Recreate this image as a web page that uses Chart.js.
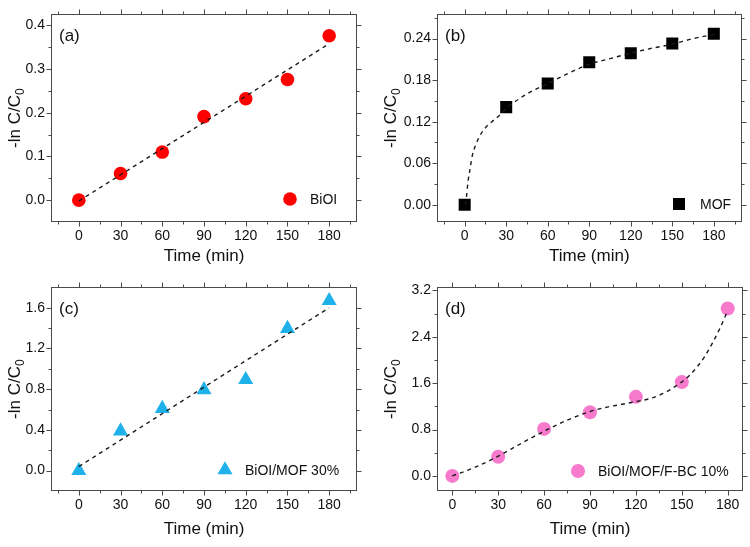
<!DOCTYPE html>
<html>
<head>
<meta charset="utf-8">
<script src="https://cdn.jsdelivr.net/npm/chart.js@4.4.1/dist/chart.umd.min.js"></script>
<style>
  body { margin: 0; background: #fff; }
  #wrap { position: relative; width: 750px; height: 547px; }
  .cell { position: absolute; width: 375px; height: 273px; }
</style>
</head>
<body>
<div id="wrap">
  <div class="cell" style="left:0;top:0"><canvas id="chartA" width="375" height="273"></canvas></div>
  <div class="cell" style="left:375px;top:0"><canvas id="chartB" width="375" height="273"></canvas></div>
  <div class="cell" style="left:0;top:273px"><canvas id="chartC" width="375" height="273"></canvas></div>
  <div class="cell" style="left:375px;top:273px"><canvas id="chartD" width="375" height="273"></canvas></div>
</div>
<script>
const FONT = '"Liberation Sans", Arial, sans-serif';

// sampling times (min)
const times = [0, 30, 60, 90, 120, 150, 180];

// measured -ln C/C0
const biOI = [0, 0.061, 0.110, 0.191, 0.232, 0.276, 0.376];
const mof = [0, 0.141, 0.175, 0.206, 0.219, 0.233, 0.247];
const biOIMof30 = [0, 0.389, 0.610, 0.794, 0.894, 1.396, 1.669];
const biOIMofFbc10 = [0, 0.331, 0.811, 1.098, 1.363, 1.617, 2.886];

// dashed fit curves
const fitTimesA = [0, 180];
const fitA = [-0.002, 0.358];
const fitTimesB = [0.5, 1.2, 2.4, 3.9, 5.5, 7.7, 10.8, 14.9, 19.7, 25.7, 30, 45, 60, 75, 90, 105, 120, 135, 150, 165, 180];
const fitB = [0, 0.010, 0.033, 0.052, 0.071, 0.085, 0.099, 0.111, 0.120, 0.130, 0.139, 0.160, 0.175, 0.190, 0.203, 0.211, 0.219, 0.226, 0.232, 0.240, 0.246];
const fitTimesC = [0, 180];
const fitC = [0.04, 1.60];
const fitTimesD = [0, 15, 30, 45, 60, 75, 90, 100, 110, 120, 130, 140, 145, 150, 155, 160, 165, 170, 175, 180];
const fitD = [0, 0.15, 0.34, 0.56, 0.77, 0.96, 1.11, 1.18, 1.23, 1.28, 1.34, 1.45, 1.53, 1.62, 1.73, 1.88, 2.06, 2.29, 2.55, 2.85];

// tick values
const xTicks = [0, 30, 60, 90, 120, 150, 180];
const xMinor = [-15, 15, 45, 75, 105, 135, 165, 195];
const yTicksA = [0, 0.1, 0.2, 0.3, 0.4];
const yMinorA = [0.05, 0.15, 0.25, 0.35];
const yTicksB = [0, 0.06, 0.12, 0.18, 0.24];
const yMinorB = [0.03, 0.09, 0.15, 0.21, 0.27];
const yTicksC = [0, 0.4, 0.8, 1.2, 1.6];
const yMinorC = [0.2, 0.6, 1.0, 1.4];
const yTicksD = [0, 0.8, 1.6, 2.4, 3.2];
const yMinorD = [0.4, 1.2, 2.0, 2.8];

const framePlugin = {
  id: 'frame',
  afterDraw(chart, args, o) {
    const { ctx, chartArea: a, scales: { x, y } } = chart;
    ctx.save();
    ctx.strokeStyle = '#4a4a4a';
    ctx.lineWidth = 1;
    const L = Math.round(a.left) + 0.5, R = Math.round(a.right) - 0.5;
    const T = Math.round(a.top) + 0.5, B = Math.round(a.bottom) - 0.5;
    ctx.strokeRect(L, T, R - L, B - T);
    const seg = (x1, y1, x2, y2) => { ctx.beginPath(); ctx.moveTo(x1, y1); ctx.lineTo(x2, y2); ctx.stroke(); };
    const xt = (v, len) => { const p = Math.round(x.getPixelForValue(v)) + 0.5; seg(p, B, p, B + len); seg(p, T, p, T - len); };
    const yt = (v, len) => { const p = Math.round(y.getPixelForValue(v)) + 0.5; seg(L, p, L - len, p); seg(R, p, R + len, p); };
    x.ticks.forEach(t => xt(t.value, 5));
    xMinor.filter(v => v > x.min && v < x.max).forEach(v => xt(v, 3));
    y.ticks.forEach(t => yt(t.value, 5));
    o.minorY.filter(v => v > y.min && v < y.max).forEach(v => yt(v, 3));

    ctx.fillStyle = '#111';
    // panel tag
    ctx.font = '17px ' + FONT;
    ctx.textAlign = 'left';
    ctx.textBaseline = 'middle';
    ctx.fillText(o.tag, a.left + 8, a.top + 22);

    // legend
    const ds = chart.data.datasets[1];
    ctx.fillStyle = ds.backgroundColor;
    Chart.helpers.drawPoint(ctx, { pointStyle: ds.pointStyle, radius: ds.pointRadius, rotation: 0, borderWidth: 0 }, o.legend[0], o.legend[1]);
    ctx.fillStyle = '#111';
    ctx.font = '14px ' + FONT;
    ctx.fillText(ds.label, o.legend[2], o.legend[1] + 1);

    // x title
    ctx.font = '17px ' + FONT;
    ctx.textAlign = 'center';
    ctx.fillText('Time (min)', (a.left + a.right) / 2, 256);

    // y title with subscript
    ctx.translate(o.ytx, (a.top + a.bottom) / 2);
    ctx.rotate(-Math.PI / 2);
    ctx.textAlign = 'left';
    ctx.textBaseline = 'alphabetic';
    ctx.font = '17px ' + FONT;
    const main = '-ln C/C';
    const wm = ctx.measureText(main).width;
    ctx.font = '12px ' + FONT;
    const ws = ctx.measureText('0').width;
    const start = -(wm + ws) / 2;
    ctx.font = '17px ' + FONT;
    ctx.fillText(main, start, 0);
    ctx.font = '12px ' + FONT;
    ctx.fillText('0', start + wm, 4);
    ctx.restore();
  }
};

function makePanel(id, p) {
  new Chart(document.getElementById(id), {
    type: 'scatter',
    data: {
      datasets: [
        {
          label: 'fit',
          data: p.fitX.map((v, i) => ({ x: v, y: p.fitY[i] })),
          showLine: true,
          pointRadius: 0,
          borderColor: '#1a1a1a',
          borderWidth: 1.4,
          borderDash: [4, 4],
          cubicInterpolationMode: 'monotone',
          order: 0
        },
        {
          label: p.name,
          data: times.map((v, i) => ({ x: v, y: p.values[i] })),
          pointStyle: p.style,
          pointRadius: p.radius,
          backgroundColor: p.color,
          borderWidth: 0,
          order: 1
        }
      ]
    },
    options: {
      responsive: false,
      animation: false,
      events: [],
      layout: { padding: p.pad },
      scales: {
        x: {
          type: 'linear', min: p.xMin, max: p.xMax,
          afterBuildTicks: s => { s.ticks = xTicks.map(v => ({ value: v })); },
          afterFit: s => { s.height = p.xh; },
          grid: { display: false, drawTicks: false },
          border: { display: false },
          ticks: { padding: 6, color: '#111', autoSkip: false, maxRotation: 0, font: { family: FONT, size: 14 }, callback: v => String(v) }
        },
        y: {
          type: 'linear', min: p.yMin, max: p.yMax,
          afterBuildTicks: s => { s.ticks = p.yTicks.map(v => ({ value: v })); },
          afterFit: s => { s.width = p.yw; },
          grid: { display: false, drawTicks: false },
          border: { display: false },
          ticks: { padding: 6, color: '#111', autoSkip: false, font: { family: FONT, size: 14 }, callback: v => v.toFixed(p.dec) }
        }
      },
      plugins: {
        legend: { display: false },
        tooltip: { enabled: false },
        frame: { tag: p.tag, minorY: p.yMinor, legend: p.legend, ytx: p.ytx }
      }
    },
    plugins: [framePlugin]
  });
}

makePanel('chartA', {
  tag: '(a)', name: 'BiOI', values: biOI, fitX: fitTimesA, fitY: fitA,
  style: 'circle', radius: 6.8, color: '#ff0000',
  xMin: -20, xMax: 200, yMin: -0.05, yMax: 0.425, yTicks: yTicksA, yMinor: yMinorA, dec: 1,
  pad: { left: 0, right: 18, top: 9, bottom: 0 }, xh: 51, yw: 51,
  legend: [290, 199, 310], ytx: 20
});
makePanel('chartB', {
  tag: '(b)', name: 'MOF', values: mof, fitX: fitTimesB, fitY: fitB,
  style: 'rect', radius: 8.5, color: '#000000',
  xMin: -20, xMax: 200, yMin: -0.025, yMax: 0.275, yTicks: yTicksB, yMinor: yMinorB, dec: 2,
  pad: { left: 0, right: 7, top: 9, bottom: 0 }, xh: 51, yw: 62,
  legend: [304, 204, 325], ytx: 21
});
makePanel('chartC', {
  tag: '(c)', name: 'BiOI/MOF 30%', values: biOIMof30, fitX: fitTimesC, fitY: fitC,
  style: 'triangle', radius: 8.7, color: '#1fb2ea',
  xMin: -20, xMax: 200, yMin: -0.2, yMax: 1.8, yTicks: yTicksC, yMinor: yMinorC, dec: 1,
  pad: { left: 0, right: 18, top: 6, bottom: 0 }, xh: 55, yw: 51,
  legend: [225, 197, 245], ytx: 20
});
makePanel('chartD', {
  tag: '(d)', name: 'BiOI/MOF/F-BC 10%', values: biOIMofFbc10, fitX: fitTimesD, fitY: fitD,
  style: 'circle', radius: 7, color: '#f77acd',
  xMin: -10, xMax: 190, yMin: -0.26, yMax: 3.25, yTicks: yTicksD, yMinor: yMinorD, dec: 1,
  pad: { left: 0, right: 7, top: 6, bottom: 0 }, xh: 55, yw: 62,
  legend: [203, 198, 223], ytx: 21
});
</script>
</body>
</html>
